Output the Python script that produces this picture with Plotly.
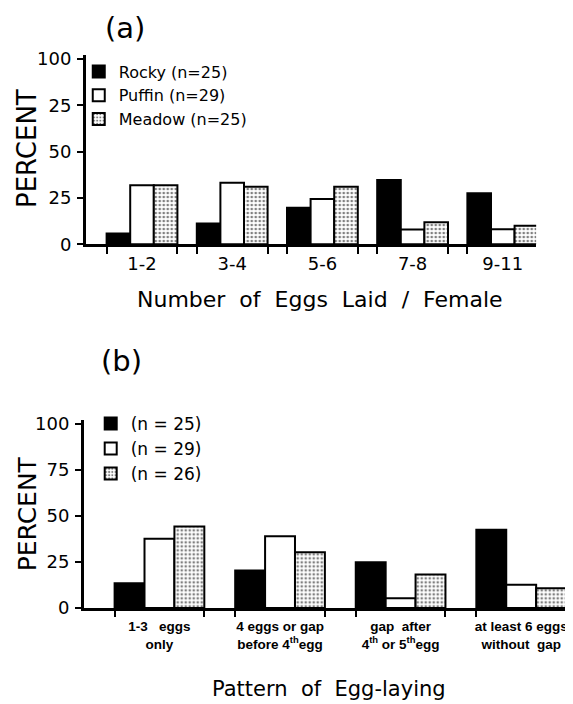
import plotly.graph_objects as go

# ---------------- data ----------------
cats_a = ["1-2", "3-4", "5-6", "7-8", "9-11"]
rocky_a = [5.8, 11.2, 19.7, 34.7, 27.5]
puffin_a = [31.9, 33.2, 24.4, 8.0, 8.1]
meadow_a = [31.9, 31.0, 31.0, 11.9, 9.9]
names_a = ["Rocky (n=25)", "Puffin (n=29)", "Meadow (n=25)"]

cats_b = ["1-3   eggs<br>only",
          "4 eggs or gap<br>before 4<sup>th</sup>egg",
          "gap  after<br>4<sup>th</sup> or 5<sup>th</sup>egg",
          "at least 6 eggs<br>without  gap"]
rocky_b = [13.5, 20.4, 24.9, 42.5]
puffin_b = [37.6, 39.0, 5.3, 12.6]
meadow_b = [44.3, 30.3, 18.2, 10.8]
names_b = ["(n = 25)", "(n = 29)", "(n = 26)"]

yticks = [0, 25, 50, 75, 100]
yticktext_a = ["0", "25", "50", "25", "100"]
yticktext_b = ["0", "25", "50", "75", "100"]

W, H = 573, 704
FONT = "DejaVu Sans"

# page-position helpers (target pixel -> paper fraction)
def X(p):
    return (p - 5) / W

def Y(p):
    return 1 - ((p - 15) / 0.975) / H

bargap_a = 0.215
bargap_b = 0.256

fig = go.Figure()

def add_series(x, vals, name, style, xa, ya, legend):
    common = dict(x=x, y=vals, name=name, xaxis=xa, yaxis=ya, legend=legend)
    line = dict(color="black", width=2)
    if style == "black":
        marker = dict(color="black", line=line)
    elif style == "white":
        marker = dict(color="white", line=line)
    else:
        marker = dict(color="white", line=line,
                      pattern=dict(shape=".", fgcolor="black", bgcolor="white",
                                   size=4, solidity=0.35))
    fig.add_trace(go.Bar(marker=marker, **common))

xa_idx = list(range(len(cats_a)))
xb_idx = list(range(len(cats_b)))
for vals, nm, st in zip([rocky_a, puffin_a, meadow_a], names_a, ["black", "white", "dots"]):
    add_series(xa_idx, vals, nm, st, "x", "y", "legend")
for vals, nm, st in zip([rocky_b, puffin_b, meadow_b], names_b, ["black", "white", "dots"]):
    add_series(xb_idx, vals, nm, st, "x2", "y2", "legend2")

half_a = (1 - bargap_a) / 2
half_b = (1 - bargap_b) / 2
bw_a = (1 - bargap_a) / 3
bw_b = (1 - bargap_b) / 3
for k, tr in enumerate([t for t in fig.data if t.xaxis == "x"]):
    tr.width = bw_a
    tr.offset = -half_a + k * bw_a
for k, tr in enumerate([t for t in fig.data if t.xaxis == "x2"]):
    tr.width = bw_b
    tr.offset = -half_b + k * bw_b

edges_a = [e for i in xa_idx for e in (i - half_a, i + half_a)]
edges_b = [e for i in xb_idx for e in (i - half_b, i + half_b)]

axis_common = dict(showgrid=False, zeroline=False, showline=True, linecolor="black",
                   linewidth=2.5, fixedrange=True)

fig.update_layout(
    width=W, height=H,
    margin=dict(l=0, r=0, t=0, b=0),
    paper_bgcolor="white", plot_bgcolor="white",
    barmode="group",
    font=dict(family=FONT, color="black", size=17),
    showlegend=True,
    xaxis=dict(domain=[X(83), X(535)], range=[-0.624, 4.37], anchor="y",
               tickmode="array", tickvals=xa_idx, ticktext=cats_a, ticks="",
               tickfont=dict(size=18), ticklabelstandoff=1,
               minor=dict(tickmode="array", tickvals=edges_a, ticks="outside", ticklen=7,
                          tickwidth=2, tickcolor="black"),
               **axis_common),
    yaxis=dict(domain=[Y(244), Y(55)], range=[0, 102.2], anchor="x",
               tickmode="array", tickvals=yticks, ticktext=yticktext_a, ticks="outside",
               ticklen=6, tickwidth=2, tickcolor="black", tickfont=dict(size=18),
               ticklabelstandoff=2,
               **axis_common),
    xaxis2=dict(domain=[X(81), X(565)], range=[-0.628, 3.372], anchor="y2",
                tickmode="array", tickvals=xb_idx, ticktext=cats_b, ticks="",
                tickfont=dict(size=13.5, family="Liberation Sans", weight="bold"),
                ticklabelstandoff=4,
                minor=dict(tickmode="array", tickvals=edges_b, ticks="outside", ticklen=6,
                           tickwidth=2, tickcolor="black"),
                **axis_common),
    yaxis2=dict(domain=[Y(607.5), Y(420)], range=[0, 102], anchor="x2",
                tickmode="array", tickvals=yticks, ticktext=yticktext_b, ticks="outside",
                ticklen=6, tickwidth=2, tickcolor="black", tickfont=dict(size=18),
                ticklabelstandoff=2,
                **axis_common),
    legend=dict(x=71 / W, y=1 - 40.5 / H, xanchor="left", yanchor="top",
                font=dict(size=16), bgcolor="rgba(0,0,0,0)", itemwidth=30,
                tracegroupgap=0, traceorder="normal"),
    legend2=dict(x=83 / W, y=1 - 400.5 / H, xanchor="left", yanchor="top",
                 font=dict(size=17), bgcolor="rgba(0,0,0,0)", itemwidth=30,
                 tracegroupgap=0, traceorder="normal"),
)

annots = [
    dict(text="(a)", x=X(122), y=Y(28), font=dict(size=29)),
    dict(text="(b)", x=X(119), y=Y(361), font=dict(size=29)),
    dict(text="PERCENT", x=X(24), y=Y(148), textangle=-90, font=dict(size=26)),
    dict(text="PERCENT", x=X(25), y=Y(513), textangle=-90, font=dict(size=25)),
    dict(text="Number  of  Eggs  Laid  /  Female", x=X(318), y=Y(299), font=dict(size=22)),
    dict(text="Pattern  of  Egg-laying", x=X(327), y=Y(688), font=dict(size=21)),
]
for a in annots:
    fig.add_annotation(xref="paper", yref="paper", showarrow=False, xanchor="center",
                       yanchor="middle", **a)

fig.write_html("out.html")
